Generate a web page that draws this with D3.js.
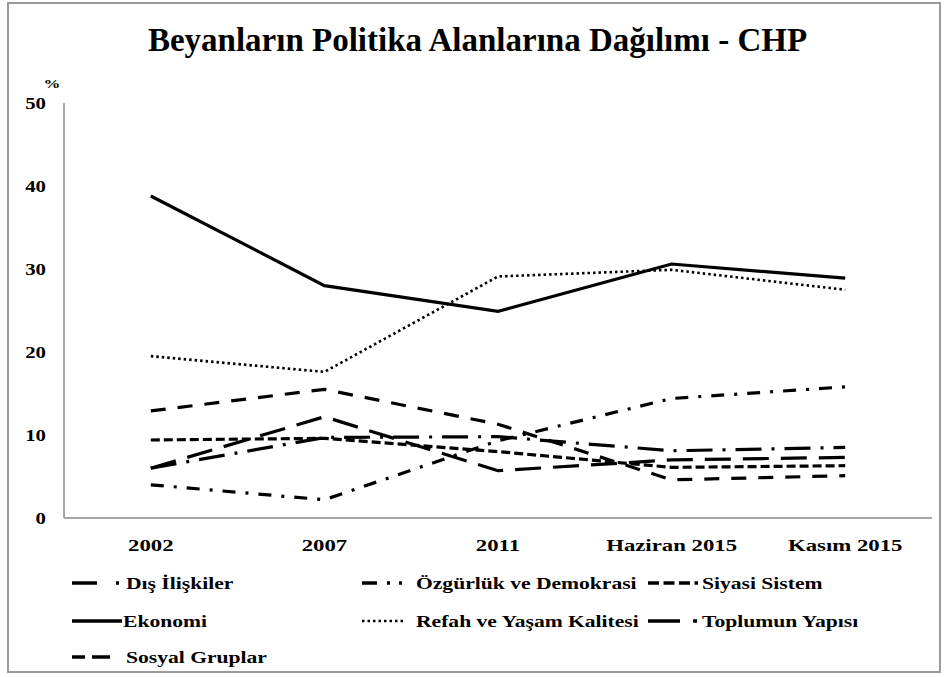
<!DOCTYPE html>
<html>
<head>
<meta charset="utf-8">
<script src="https://cdn.jsdelivr.net/npm/d3@7"></script>
<style>
  body { margin: 0; background: #fff; }
  text { font-family: "Liberation Serif", "Times New Roman", serif; font-weight: bold; fill: #000; }
</style>
</head>
<body>
<div id="chart"></div>
<script>
// values (%)
const categories = ["2002", "2007", "2011", "Haziran 2015", "Kasım 2015"];
const yTicks = [0, 10, 20, 30, 40, 50];

const disIliskiler   = [6.0, 9.7, 9.8, 8.1, 8.5];
const ozgurluk       = [4.0, 2.2, 9.3, 14.4, 15.8];
const siyasiSistem   = [9.4, 9.6, 8.0, 6.1, 6.3];
const ekonomi        = [38.8, 28.0, 24.9, 30.6, 28.9];
const refah          = [19.5, 17.6, 29.1, 29.9, 27.5];
const toplumunYapisi = [6.0, 12.2, 5.7, 7.0, 7.3];
const sosyalGruplar  = [12.9, 15.5, 11.3, 4.6, 5.1];

const seriesNames = ["Dış İlişkiler", "Özgürlük ve Demokrasi", "Siyasi Sistem", "Ekonomi",
                     "Refah ve Yaşam Kalitesi", "Toplumun Yapısı", "Sosyal Gruplar"];
const seriesValues = [disIliskiler, ozgurluk, siyasiSistem, ekonomi, refah, toplumunYapisi, sosyalGruplar];

// line styles: on the plot and in the (short) legend sample
const dashes = ["26,10,3,10", "13,10,3,10", "9,4", null, "2.5,3", "26,12", "15,12"];
const legendDashes = ["25,19,3,100", "15,10,3,9,3,100", "11,4.5", null, "2.5,3", "32,13,4,100", "13,7,18,100"];

const W = 947, H = 677;
const margin = {top: 103, right: 15, bottom: 159, left: 64};
const width = W - margin.left - margin.right,
      height = H - margin.top - margin.bottom;
const sx = 1.3; // text in the picture is drawn wide

const svg = d3.select("#chart").append("svg")
    .attr("width", W).attr("height", H);

// outer frame
svg.append("rect")
    .attr("x", 8).attr("y", 3)
    .attr("width", 932).attr("height", 669)
    .attr("fill", "none").attr("stroke", "#9a9a9a").attr("stroke-width", 2);

svg.append("text")
    .attr("x", W / 2 + 4).attr("y", 51)
    .attr("text-anchor", "middle")
    .attr("font-size", 33)
    .text("Beyanların Politika Alanlarına Dağılımı - CHP");

const g = svg.append("g")
    .attr("transform", "translate(" + margin.left + "," + margin.top + ")");

const x = d3.scalePoint().domain(categories).range([0, width]).padding(0.5);
const y = d3.scaleLinear().domain([0, 50]).range([height, 0]);

// axes lines
g.append("line").attr("x1", 0).attr("x2", 0).attr("y1", 0).attr("y2", height)
    .attr("stroke", "#a6a6a6").attr("stroke-width", 2);
g.append("line").attr("x1", 0).attr("x2", width).attr("y1", height).attr("y2", height)
    .attr("stroke", "#a6a6a6").attr("stroke-width", 2);

// y tick labels
g.selectAll(".ytick").data(yTicks).enter()
    .append("g")
    .attr("class", "ytick")
    .attr("transform", d => "translate(-18," + (y(d) + 6) + ") scale(" + sx + ",1)")
    .append("text")
    .attr("text-anchor", "end")
    .attr("font-size", 16)
    .text(d => d);

svg.append("g")
    .attr("transform", "translate(52,88) scale(" + sx + ",1)")
    .append("text")
    .attr("text-anchor", "middle")
    .attr("font-size", 13)
    .text("%");

// x tick labels
g.selectAll(".xtick").data(categories).enter()
    .append("g")
    .attr("class", "xtick")
    .attr("transform", d => "translate(" + x(d) + "," + (height + 33) + ") scale(1.34,1)")
    .append("text")
    .attr("text-anchor", "middle")
    .attr("font-size", 17)
    .text(d => d);

const line = d3.line()
    .x((d, i) => x(categories[i]))
    .y(d => y(d));

g.selectAll(".series").data(seriesValues).enter()
    .append("path")
    .attr("class", "series")
    .attr("fill", "none")
    .attr("stroke", "#000")
    .attr("stroke-width", (d, i) => i === 4 ? 2.6 : 3.2)
    .attr("stroke-dasharray", (d, i) => dashes[i])
    .attr("d", line);

// legend: sample start x and row centre y for each entry
const legendPos = [
    [72, 583], [362, 583], [648, 583],
    [72, 621], [362, 621], [648, 621],
    [72, 657]
];
const lg = svg.selectAll(".legend").data(seriesNames).enter()
    .append("g")
    .attr("class", "legend")
    .attr("transform", (d, i) => "translate(" + legendPos[i][0] + "," + legendPos[i][1] + ")");
lg.append("line")
    .attr("x1", 0).attr("x2", (d, i) => i === 4 ? 42 : 50)
    .attr("y1", 0).attr("y2", 0)
    .attr("stroke", "#000")
    .attr("stroke-width", (d, i) => i === 4 ? 2.6 : 3.4)
    .attr("stroke-dasharray", (d, i) => legendDashes[i]);
lg.append("g")
    .attr("transform", (d, i) => "translate(" + (i === 3 ? 51 : 54) + ",6) scale(1.27,1)")
    .append("text")
    .attr("font-size", 17)
    .text(d => d);
</script>
</body>
</html>
